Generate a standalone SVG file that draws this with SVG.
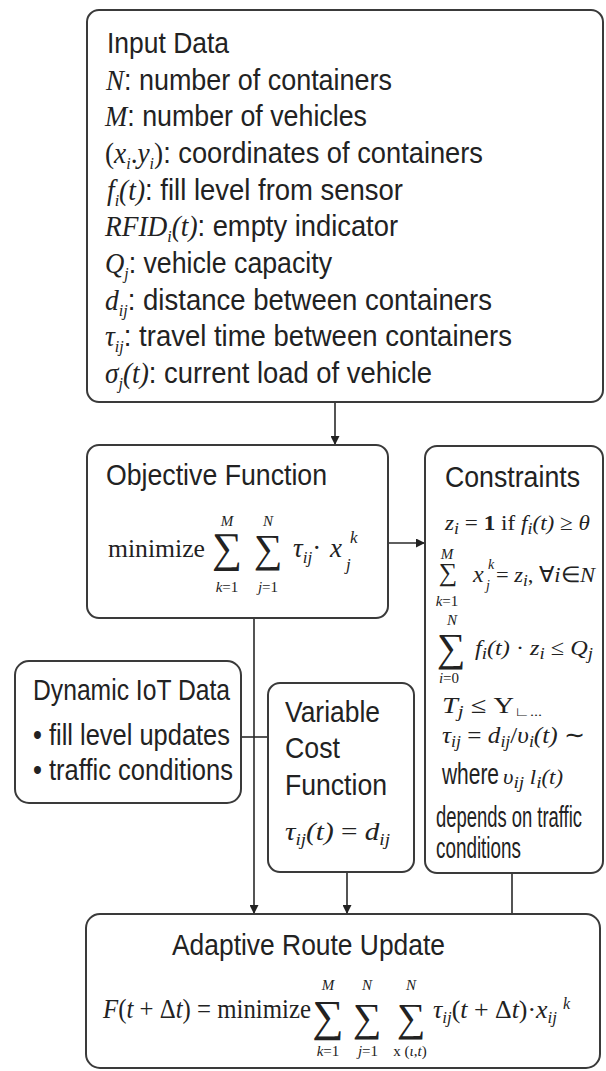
<svg xmlns="http://www.w3.org/2000/svg" width="606" height="1071" viewBox="0 0 606 1071">
<defs>
<style>
.box{fill:#fff;stroke:#3a3a3a;stroke-width:2}
.t{font-family:"Liberation Sans",Arial,sans-serif;font-size:29px;fill:#222}
.m{font-family:"Liberation Serif","Times New Roman",serif;font-style:italic}
.r{font-family:"Liberation Serif","Times New Roman",serif;font-style:normal}
.s{font-family:"Liberation Serif","Times New Roman",serif;font-style:italic;font-size:17px}
.f{font-family:"Liberation Serif","Times New Roman",serif;fill:#222}
.sig{font-family:"Liberation Serif","DejaVu Serif",serif;fill:#222;text-anchor:middle}
.lim{font-family:"Liberation Serif","Times New Roman",serif;fill:#222;text-anchor:middle;font-size:15px}
.c{stroke:#2a2a2a;stroke-width:1.6;fill:none}
</style>
<marker id="ah" viewBox="0 0 10 10" refX="10" refY="5" markerWidth="9" markerHeight="9" markerUnits="userSpaceOnUse" orient="auto">
<path d="M0,0 L10,5 L0,10 z" fill="#222"/>
</marker>
</defs>
<rect width="606" height="1071" fill="#fff"/>

<g id="connectors">
<path class="c" d="M335,402 V445" marker-end="url(#ah)"/>
<path class="c" d="M388,543 H425" marker-end="url(#ah)"/>
<path class="c" d="M254,618 V914" marker-end="url(#ah)"/>
<path class="c" d="M241,737 H268"/>
<path class="c" d="M347,872 V914" marker-end="url(#ah)"/>
<path class="c" d="M512,873 V914"/>
</g>

<g id="input-data">
<rect class="box" x="87" y="10" width="516" height="392" rx="12"/>
<text class="t" x="107" y="53" textLength="122" lengthAdjust="spacingAndGlyphs">Input Data</text>
<text class="t" x="106" y="90" textLength="286" lengthAdjust="spacingAndGlyphs"><tspan class="m">N</tspan>: number of containers</text>
<text class="t" x="105" y="126" textLength="262" lengthAdjust="spacingAndGlyphs"><tspan class="m">M</tspan>: number of vehicles</text>
<text class="t" x="105" y="163" textLength="378" lengthAdjust="spacingAndGlyphs"><tspan class="r">(</tspan><tspan class="m">x</tspan><tspan class="s" dy="6">i</tspan><tspan class="r" dy="-6">.</tspan><tspan class="m">y</tspan><tspan class="s" dy="6">i</tspan><tspan class="r" dy="-6">)</tspan>: coordinates of containers</text>
<text class="t" x="107" y="200" textLength="296" lengthAdjust="spacingAndGlyphs"><tspan class="m">f</tspan><tspan class="s" dy="6">i</tspan><tspan class="m" dy="-6">(t)</tspan>: fill level from sensor</text>
<text class="t" x="105" y="236" textLength="293" lengthAdjust="spacingAndGlyphs"><tspan class="m">RFID</tspan><tspan class="s" dy="6">i</tspan><tspan class="m" dy="-6">(t)</tspan>: empty indicator</text>
<text class="t" x="105" y="273" textLength="227" lengthAdjust="spacingAndGlyphs"><tspan class="m">Q</tspan><tspan class="s" dy="6">j</tspan><tspan dy="-6">: vehicle capacity</tspan></text>
<text class="t" x="105" y="310" textLength="387" lengthAdjust="spacingAndGlyphs"><tspan class="m">d</tspan><tspan class="s" dy="6">ij</tspan><tspan dy="-6">: distance between containers</tspan></text>
<text class="t" x="105" y="346" textLength="407" lengthAdjust="spacingAndGlyphs"><tspan class="m">τ</tspan><tspan class="s" dy="6">ij</tspan><tspan dy="-6">: travel time between containers</tspan></text>
<text class="t" x="105" y="383" textLength="327" lengthAdjust="spacingAndGlyphs"><tspan class="m">σ</tspan><tspan class="s" dy="6">j</tspan><tspan class="m" dy="-6">(t)</tspan>: current load of vehicle</text>
</g>

<g id="objective-function">
<rect class="box" x="87" y="445" width="301" height="173" rx="12"/>
<text class="t" x="106" y="485" textLength="221" lengthAdjust="spacingAndGlyphs">Objective Function</text>
<text class="f" x="108" y="557" font-size="26" textLength="97" lengthAdjust="spacingAndGlyphs">minimize</text>
<text class="sig" x="227" y="562" font-size="42">∑</text>
<text class="sig" x="268" y="562" font-size="40">∑</text>
<text class="lim m" x="227" y="526">M</text>
<text class="lim m" x="268" y="526">N</text>
<text class="lim" x="227" y="592"><tspan class="m">k</tspan>=1</text>
<text class="lim" x="268" y="592"><tspan class="m">j</tspan>=1</text>
<text class="f" x="293" y="557" font-size="27"><tspan class="m">τ</tspan><tspan class="s" dy="6">ij</tspan><tspan dy="-6">·</tspan></text>
<text class="f m" x="330" y="557" font-size="27">x</text>
<text class="f m" x="350" y="543" font-size="17">k</text>
<text class="f m" x="346" y="570" font-size="17">j</text>
</g>

<g id="constraints">
<rect class="box" x="425" y="446" width="178" height="427" rx="12"/>
<text class="t" x="445" y="487" textLength="135" lengthAdjust="spacingAndGlyphs">Constraints</text>
<text class="f" x="445" y="530" font-size="22" textLength="145" lengthAdjust="spacingAndGlyphs"><tspan class="m">z</tspan><tspan class="s" font-size="14" dy="4">i</tspan><tspan dy="-4"> = </tspan><tspan font-weight="bold">1</tspan> if <tspan class="m">f</tspan><tspan class="s" font-size="14" dy="4">i</tspan><tspan class="m" dy="-4">(t)</tspan> ≥ <tspan class="m">θ</tspan></text>
<text class="sig" x="448" y="581" font-size="26">∑</text>
<text class="lim m" x="447" y="559" font-size="13">M</text>
<text class="lim" x="447" y="606" font-size="14"><tspan class="m">k</tspan>=1</text>
<text class="f m" x="473" y="582" font-size="24">x</text>
<text class="f m" x="488" y="569" font-size="14">k</text>
<text class="f m" x="486" y="590" font-size="14">j</text>
<text class="f" x="496" y="582" font-size="22" textLength="99" lengthAdjust="spacingAndGlyphs">= <tspan class="m">z</tspan><tspan class="s" font-size="14" dy="4">i</tspan><tspan dy="-4">, ∀</tspan><tspan class="m">i</tspan>∈<tspan class="m">N</tspan></text>
<text class="sig" x="451" y="661" font-size="40">∑</text>
<text class="lim m" x="452" y="625" font-size="13">N</text>
<text class="lim" x="449" y="683" font-size="15"><tspan class="m">i</tspan>=0</text>
<text class="f" x="475" y="655" font-size="22" textLength="118" lengthAdjust="spacingAndGlyphs"><tspan class="m">f</tspan><tspan class="s" font-size="14" dy="4">i</tspan><tspan class="m" dy="-4">(t)</tspan> · <tspan class="m">z</tspan><tspan class="s" font-size="14" dy="4">i</tspan><tspan dy="-4"> ≤ </tspan><tspan class="m">Q</tspan><tspan class="s" font-size="14" dy="4">j</tspan></text>
<text class="f" x="442" y="713" font-size="23" textLength="100" lengthAdjust="spacingAndGlyphs"><tspan class="m">T</tspan><tspan class="s" font-size="14" dy="4">j</tspan><tspan dy="-4"> ≤ Υ</tspan><tspan font-size="13" dy="3">∟...</tspan></text>
<text class="f" x="442" y="743" font-size="24" textLength="143" lengthAdjust="spacingAndGlyphs"><tspan class="m">τ</tspan><tspan class="s" font-size="14" dy="4">ij</tspan><tspan dy="-4"> = </tspan><tspan class="m">d</tspan><tspan class="s" font-size="14" dy="4">ij</tspan><tspan dy="-4">/</tspan><tspan class="m">υ</tspan><tspan class="s" font-size="14" dy="4">i</tspan><tspan class="m" dy="-4">(t)</tspan> ∼</text>
<text class="t" x="442" y="784" font-size="19" textLength="57" lengthAdjust="spacingAndGlyphs">where</text>
<text class="f" x="503" y="784" font-size="20" textLength="60" lengthAdjust="spacingAndGlyphs"><tspan class="m">υ</tspan><tspan class="s" font-size="13" dy="4">ij</tspan><tspan class="m" dy="-4"> l</tspan><tspan class="s" font-size="13" dy="4">i</tspan><tspan class="m" dy="-4">(t)</tspan></text>
<text class="t" x="436" y="827" font-size="19.5" textLength="146" lengthAdjust="spacingAndGlyphs">depends on traffic</text>
<text class="t" x="436" y="858" font-size="19.5" textLength="85" lengthAdjust="spacingAndGlyphs">conditions</text>
</g>

<g id="dynamic-iot-data">
<rect class="box" x="15" y="661" width="226" height="142" rx="14"/>
<text class="t" x="33" y="700" textLength="197" lengthAdjust="spacingAndGlyphs">Dynamic IoT Data</text>
<text class="t" x="33" y="745" textLength="197" lengthAdjust="spacingAndGlyphs">• fill level updates</text>
<text class="t" x="33" y="780" textLength="200" lengthAdjust="spacingAndGlyphs">• traffic conditions</text>
</g>

<g id="variable-cost-function">
<rect class="box" x="268" y="683" width="146" height="189" rx="12"/>
<text class="t" x="285" y="722" textLength="95" lengthAdjust="spacingAndGlyphs">Variable</text>
<text class="t" x="285" y="758" textLength="55" lengthAdjust="spacingAndGlyphs">Cost</text>
<text class="t" x="285" y="795" textLength="102" lengthAdjust="spacingAndGlyphs">Function</text>
<text class="f" x="285" y="840" font-size="26" textLength="105" lengthAdjust="spacingAndGlyphs"><tspan class="m">τ</tspan><tspan class="s" font-size="15" dy="5">ij</tspan><tspan class="m" dy="-5">(t)</tspan> = <tspan class="m">d</tspan><tspan class="s" font-size="15" dy="5">ij</tspan></text>
</g>

<g id="adaptive-route-update">
<rect class="box" x="86" y="914" width="514" height="154" rx="14"/>
<text class="t" x="172" y="955" textLength="273" lengthAdjust="spacingAndGlyphs">Adaptive Route Update</text>
<text class="f" x="103" y="1018" font-size="27" textLength="208" lengthAdjust="spacingAndGlyphs"><tspan class="m">F</tspan>(<tspan class="m">t</tspan> + Δ<tspan class="m">t</tspan>) = minimize</text>
<text class="sig" x="328" y="1031" font-size="44">∑</text>
<text class="sig" x="367" y="1031" font-size="40">∑</text>
<text class="sig" x="411" y="1031" font-size="40">∑</text>
<text class="lim m" x="328" y="990">M</text>
<text class="lim m" x="367" y="990">N</text>
<text class="lim m" x="411" y="990">N</text>
<text class="lim" x="328" y="1056"><tspan class="m">k</tspan>=1</text>
<text class="lim" x="368" y="1056"><tspan class="m">j</tspan>=1</text>
<text class="lim" x="410" y="1056">x (<tspan class="m">ι</tspan>,<tspan class="m">t</tspan>)</text>
<text class="f" x="433" y="1018" font-size="26" textLength="124" lengthAdjust="spacingAndGlyphs"><tspan class="m">τ</tspan><tspan class="s" font-size="16" dy="5">ij</tspan><tspan dy="-5">(</tspan><tspan class="m">t</tspan> + Δ<tspan class="m">t</tspan>)·<tspan class="m">x</tspan><tspan class="s" font-size="16" dy="5">ij</tspan></text>
<text class="f m" x="563" y="1009" font-size="16">k</text>
</g>
</svg>
